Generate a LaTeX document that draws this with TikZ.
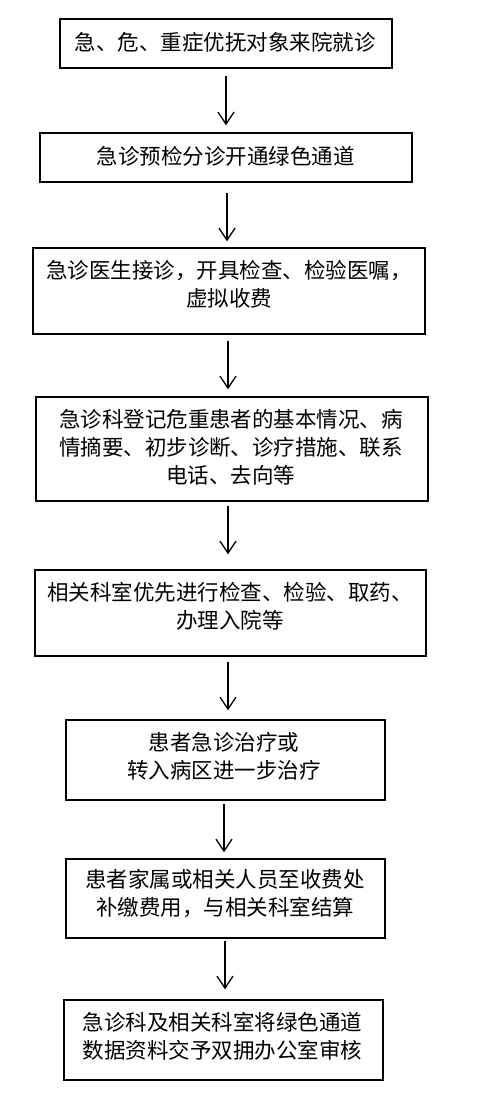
\documentclass[tikz,border=0pt]{standalone}
\usepackage{fontspec}
\setmainfont{Noto Sans CJK SC}
\usetikzlibrary{arrows.meta}
\begin{document}
\begin{tikzpicture}[x=1pt,y=-1pt,
  box/.style 2 args={draw, line width=1.5pt, minimum width=#1pt, minimum height=#2pt, inner sep=0pt},
  txt/.style={font=\fontsize{21.5}{28}\selectfont, align=center, inner sep=0pt},
  arr/.style={line width=1.3pt, -{Straight Barb[length=12pt,width=16pt,line width=1.3pt]}}]
\useasboundingbox[fill=white] (0,0) rectangle (488,1109);
% boxes
\node[box={332}{49}] (b1) at (226,43.5) {};
\node[box={372}{49}] (b2) at (226,157.5) {};
\node[box={392}{86}] (b3) at (229,291) {};
\node[box={392}{104}] (b4) at (232,449) {};
\node[box={391}{86}] (b5) at (230.5,613) {};
\node[box={319}{80}] (b6) at (225.5,760) {};
\node[box={319}{79}] (b7) at (225.5,898.5) {};
\node[box={319}{80}] (b8) at (223.5,1040) {};
% texts
\node[txt] (t1) at (225,42) {急、危、重症优抚对象来院就诊};
\node[txt] (t2) at (225.5,156) {急诊预检分诊开通绿色通道};
\node[txt] (t3) at (229,284) {急诊医生接诊，开具检查、检验医嘱，\\虚拟收费};
\node[txt] (t4) at (231,447) {急诊科登记危重患者的基本情况、病\\情摘要、初步诊断、诊疗措施、联系\\电话、去向等};
\node[txt] (t5) at (230,606) {相关科室优先进行检查、检验、取药、\\办理入院等};
\node[txt] (t6) at (224,756) {患者急诊治疗或\\转入病区进一步治疗};
\node[txt] (t7) at (225,894) {患者家属或相关人员至收费处\\补缴费用，与相关科室结算};
\node[txt] (t8) at (222.5,1036) {急诊科及相关科室将绿色通道\\数据资料交予双拥办公室审核};
% arrows
\draw[arr] ([yshift=-7pt]b1.south) -- ([yshift=7pt]b1.south |- b2.north);
\draw[arr] ([xshift=1pt,yshift=-10pt]b2.south) -- ([xshift=1pt,yshift=6pt]b2.south |- b3.north);
\draw[arr] ([xshift=-1pt,yshift=-6pt]b3.south) -- ([xshift=-1pt,yshift=7pt]b3.south |- b4.north);
\draw[arr] ([xshift=-4pt,yshift=-4pt]b4.south) -- ([xshift=-4pt,yshift=15pt]b4.south |- b5.north);
\draw[arr] ([xshift=-2.5pt,yshift=-5pt]b5.south) -- ([xshift=-2.5pt,yshift=9pt]b5.south |- b6.north);
\draw[arr] ([xshift=-1.5pt,yshift=-3pt]b6.south) -- ([xshift=-1.5pt,yshift=6pt]b6.south |- b7.north);
\draw[arr] ([xshift=-0.5pt,yshift=-2pt]b7.south) -- ([xshift=-0.5pt,yshift=10pt]b7.south |- b8.north);
\end{tikzpicture}
\end{document}
